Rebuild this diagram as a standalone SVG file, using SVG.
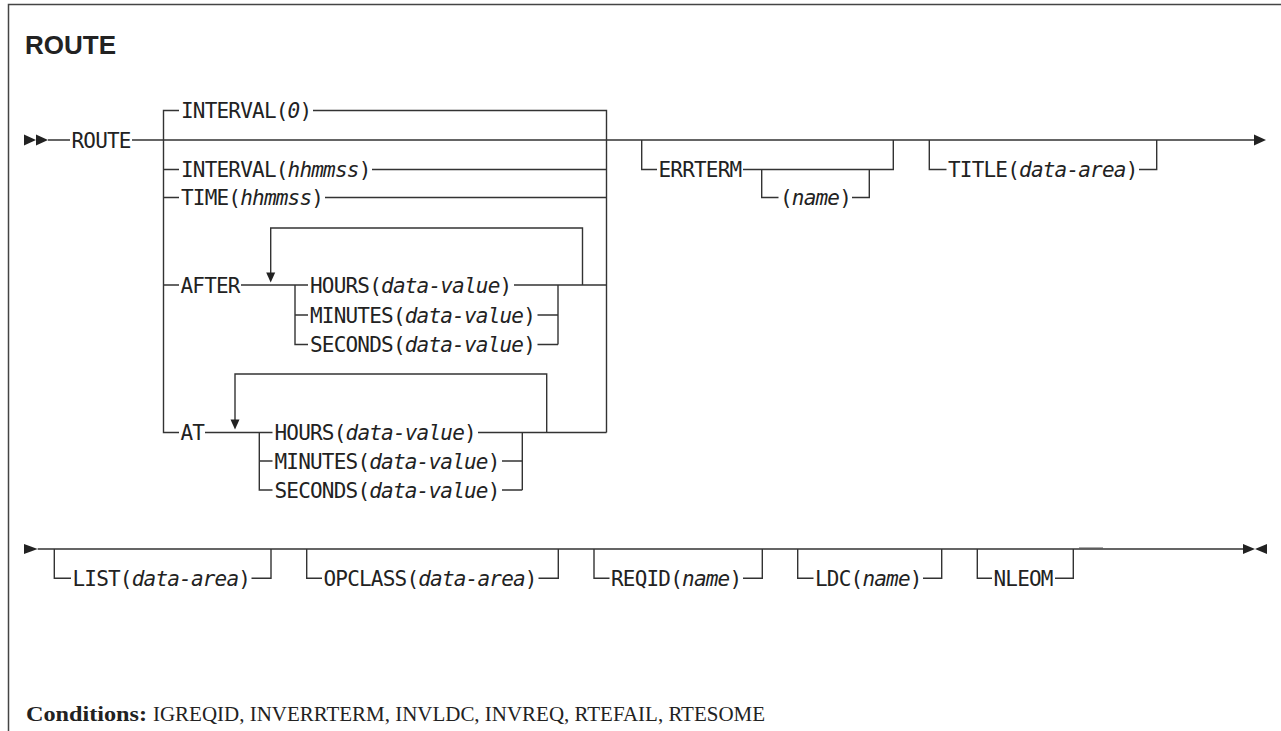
<svg xmlns="http://www.w3.org/2000/svg" width="1281" height="731" viewBox="0 0 1281 731">
<style>
.l{fill:none;stroke:#333;stroke-width:1.4}
.t{font-family:"DejaVu Sans Mono","Liberation Mono",monospace;font-size:21px;letter-spacing:-0.8px;fill:#222}
.i{font-style:italic}
.a{fill:#222;stroke:none}
.c{font-family:"Liberation Serif","Times New Roman",serif;font-size:21px;fill:#222}
</style>
<defs>
<path id="tr" d="M0,-5.5 L12,0 L0,5.5 Z"/>
<path id="td" d="M-4.5,0 L4.5,0 L0,10 Z"/>
</defs>
<rect width="1281" height="731" fill="#fff"/>
<path d="M8.5,731 V4.5 H1281" fill="none" stroke="#444" stroke-width="1.5"/>
<g id="title"><text x="25" y="54" font-family="Liberation Sans, Arial, sans-serif" font-weight="bold" font-size="26" fill="#222">ROUTE</text></g>

<g id="connectors">
<path class="l" d="M48,140 H70 M132,140 H1255"/>
<path class="l" d="M163.5,140 V110.5 H179 M313,110.5 H606.5 V432.5 M163.5,140 V432.5 H179 M163.5,169.5 H179 M163.5,197.5 H179 M163.5,285 H179 M372,169.5 H606.5 M325,197.5 H606.5"/>
<path class="l" d="M241,285 H308 M514,285 H606.5 M582.5,285 V228 H270.7 V273 M295,285 V344.5 H308 M295,315 H308 M537.5,315 H558 M537.5,344.5 H558 M558,285 V344.5"/>
<path class="l" d="M205,432.5 H272.5 M478,432.5 H606.5 M546.7,432.5 V374 H235 V420 M259.3,432.5 V490 H272.5 M259.3,461 H272.5 M502,461 H522.3 M502,490 H522.3 M522.3,432.5 V490"/>
<path class="l" d="M641.7,140 V169.5 H657 M743,169.5 H893.3 V140 M761.7,169.5 V197.5 H778.5 M852,197.5 H869.3 V169.5"/>
<path class="l" d="M929.3,140 V169.5 H946.5 M1139,169.5 H1156.7 V140"/>
<path class="l" d="M37.7,549 H1243 M54.3,549 V578.3 H71 M251.5,578.3 H271 V549 M306.7,549 V578.3 H322 M538.5,578.3 H558.3 V549 M594,549 V578.3 H609.5 M743,578.3 H762.3 V549 M797.7,549 V578.3 H813.5 M923,578.3 H941.7 V549 M977.3,549 V578.3 H992 M1055,578.3 H1073.3 V549"/>
<path d="M1079,548 H1103" fill="none" stroke="#555" stroke-width="1"/>
<use href="#tr" class="a" x="24" y="140"/>
<use href="#tr" class="a" x="36" y="140"/>
<use href="#tr" class="a" x="1254" y="140"/>
<use href="#td" class="a" x="270.7" y="272.5"/>
<use href="#td" class="a" x="235" y="419.5"/>
<path class="a" d="M24,544 L37.7,549 L24,554 Z"/>
<path class="a" d="M1243,544 L1255,549 L1243,554 Z M1267,544 L1255,549 L1267,554 Z"/>
</g>

<g id="n-route"><text class="t" x="71.5" y="147.5">ROUTE</text></g>
<g id="n-interval0"><text class="t" x="181" y="118">INTERVAL(<tspan class="i">0</tspan>)</text></g>
<g id="n-interval"><text class="t" x="181" y="177">INTERVAL(<tspan class="i">hhmmss</tspan>)</text></g>
<g id="n-time"><text class="t" x="181" y="205">TIME(<tspan class="i">hhmmss</tspan>)</text></g>
<g id="n-after"><text class="t" x="180.5" y="292.5">AFTER</text></g>
<g id="n-after-hours"><text class="t" x="310" y="292.5">HOURS(<tspan class="i">data-value</tspan>)</text></g>
<g id="n-after-minutes"><text class="t" x="310" y="322.5">MINUTES(<tspan class="i">data-value</tspan>)</text></g>
<g id="n-after-seconds"><text class="t" x="310" y="352">SECONDS(<tspan class="i">data-value</tspan>)</text></g>
<g id="n-at"><text class="t" x="180.5" y="440">AT</text></g>
<g id="n-at-hours"><text class="t" x="274.5" y="440">HOURS(<tspan class="i">data-value</tspan>)</text></g>
<g id="n-at-minutes"><text class="t" x="274.5" y="468.5">MINUTES(<tspan class="i">data-value</tspan>)</text></g>
<g id="n-at-seconds"><text class="t" x="274.5" y="497.5">SECONDS(<tspan class="i">data-value</tspan>)</text></g>
<g id="n-errterm"><text class="t" x="658.5" y="177">ERRTERM</text></g>
<g id="n-name"><text class="t" x="780" y="205">(<tspan class="i">name</tspan>)</text></g>
<g id="n-title"><text class="t" x="948" y="177">TITLE(<tspan class="i">data-area</tspan>)</text></g>
<g id="n-list"><text class="t" x="72.5" y="586">LIST(<tspan class="i">data-area</tspan>)</text></g>
<g id="n-opclass"><text class="t" x="323.5" y="586">OPCLASS(<tspan class="i">data-area</tspan>)</text></g>
<g id="n-reqid"><text class="t" x="611" y="586">REQID(<tspan class="i">name</tspan>)</text></g>
<g id="n-ldc"><text class="t" x="815" y="586">LDC(<tspan class="i">name</tspan>)</text></g>
<g id="n-nleom"><text class="t" x="993.5" y="586">NLEOM</text></g>
<g id="conditions">
<text class="c" x="26" y="721" font-weight="bold" textLength="121" lengthAdjust="spacingAndGlyphs">Conditions:</text>
<text class="c" x="153" y="721" textLength="612" lengthAdjust="spacingAndGlyphs">IGREQID, INVERRTERM, INVLDC, INVREQ, RTEFAIL, RTESOME</text>
</g>
</svg>
